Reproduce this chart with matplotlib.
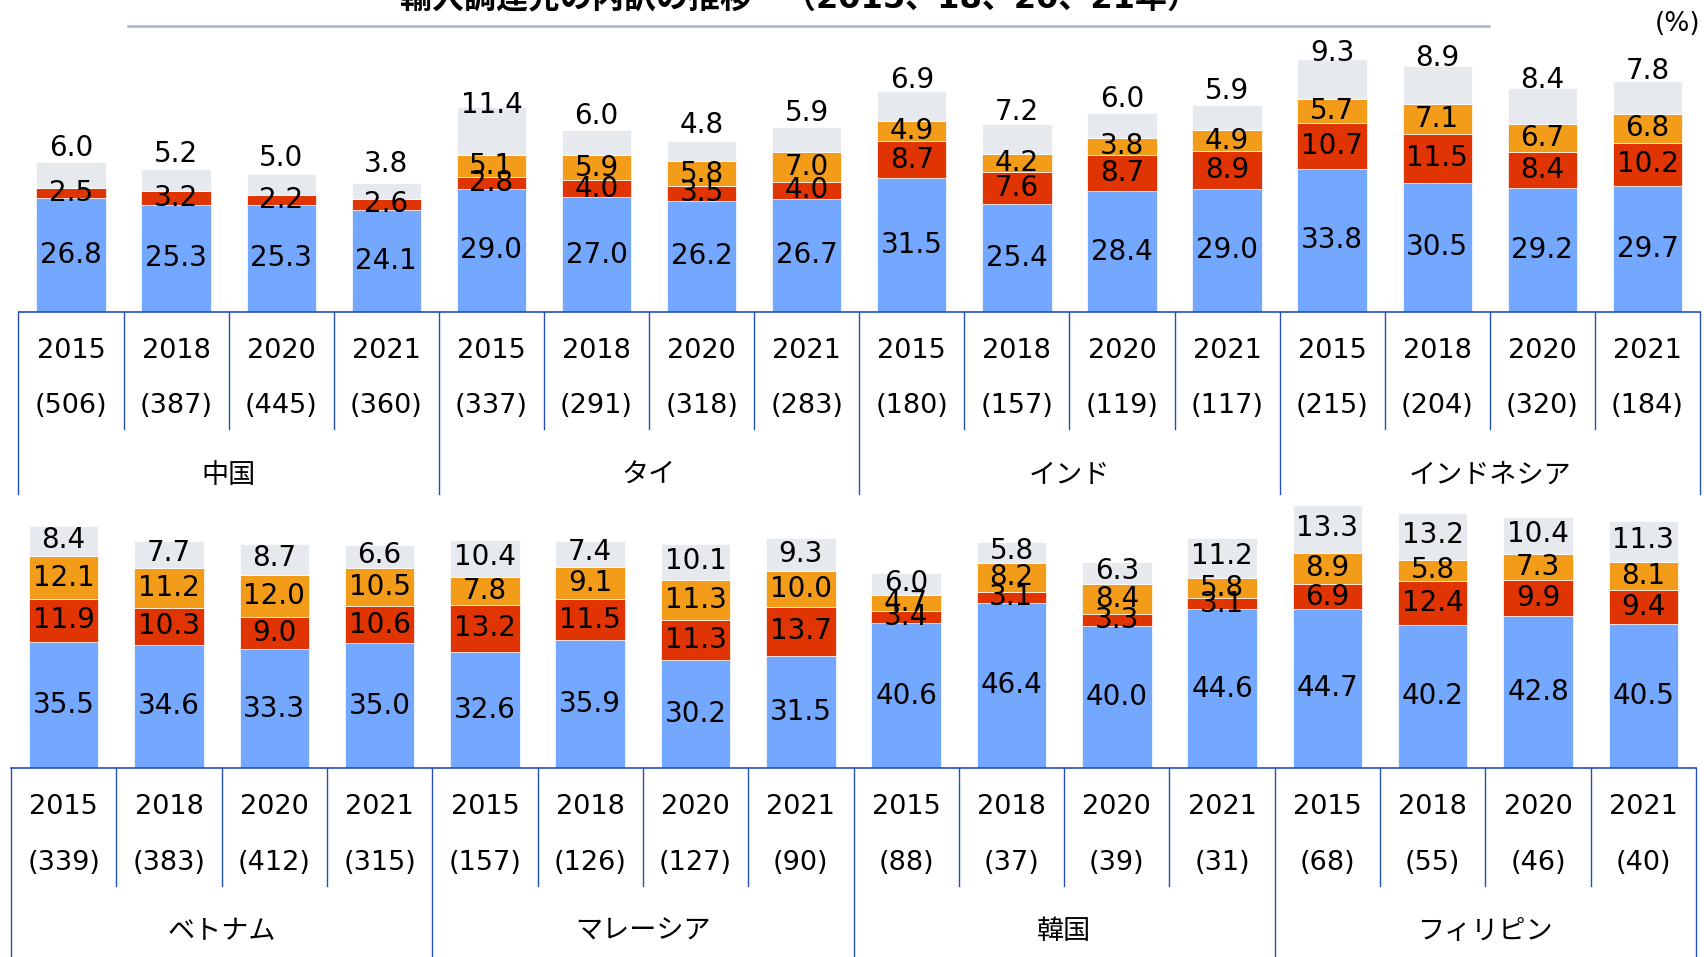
import numpy as np
import matplotlib.pyplot as plt
from matplotlib.transforms import blended_transform_factory

plt.rcParams['font.family'] = ['DejaVu Sans', 'Noto Sans CJK JP']

# データ
years = ['2015', '2018', '2020', '2021']

top_countries = ['中国', 'タイ', 'インド', 'インドネシア']
top_counts = [506, 387, 445, 360, 337, 291, 318, 283,
              180, 157, 119, 117, 215, 204, 320, 184]
top_blue = [26.8, 25.3, 25.3, 24.1, 29.0, 27.0, 26.2, 26.7,
            31.5, 25.4, 28.4, 29.0, 33.8, 30.5, 29.2, 29.7]
top_red = [2.5, 3.2, 2.2, 2.6, 2.8, 4.0, 3.5, 4.0,
           8.7, 7.6, 8.7, 8.9, 10.7, 11.5, 8.4, 10.2]
top_orange = [0, 0, 0, 0, 5.1, 5.9, 5.8, 7.0,
              4.9, 4.2, 3.8, 4.9, 5.7, 7.1, 6.7, 6.8]
top_gray = [6.0, 5.2, 5.0, 3.8, 11.4, 6.0, 4.8, 5.9,
            6.9, 7.2, 6.0, 5.9, 9.3, 8.9, 8.4, 7.8]

bot_countries = ['ベトナム', 'マレーシア', '韓国', 'フィリピン']
bot_counts = [339, 383, 412, 315, 157, 126, 127, 90,
              88, 37, 39, 31, 68, 55, 46, 40]
bot_blue = [35.5, 34.6, 33.3, 35.0, 32.6, 35.9, 30.2, 31.5,
            40.6, 46.4, 40.0, 44.6, 44.7, 40.2, 42.8, 40.5]
bot_red = [11.9, 10.3, 9.0, 10.6, 13.2, 11.5, 11.3, 13.7,
           3.4, 3.1, 3.3, 3.1, 6.9, 12.4, 9.9, 9.4]
bot_orange = [12.1, 11.2, 12.0, 10.5, 7.8, 9.1, 11.3, 10.0,
              4.7, 8.2, 8.4, 5.8, 8.9, 5.8, 7.3, 8.1]
bot_gray = [8.4, 7.7, 8.7, 6.6, 10.4, 7.4, 10.1, 9.3,
            6.0, 5.8, 6.3, 11.2, 13.3, 13.2, 10.4, 11.3]

colors = ['#74A7FE', '#E03402', '#F39C1A', '#E6E9EE']
line_col = '#2450B4'

W, H = 1704, 957
fig = plt.figure(figsize=(W / 100, H / 100), dpi=100)
bg = fig.add_axes([0, 0, 1, 1])
bg.set_xlim(0, W)
bg.set_ylim(H, 0)
bg.axis('off')

# タイトル（上部が切れている）
bg.text(800, 8, '輸入調達先の内訳の推移　（2015、18、20、21年）',
        ha='center', va='baseline', fontsize=23, fontweight='bold')
bg.plot([128, 1489], [26, 26], color='#A9B4C6', lw=1.8)
bg.text(1700, 24, '(%)', ha='right', va='center', fontsize=19)


def panel(left, right, base, top_px, scale, series, counts, countries,
          year_y, count_y, sep_y, country_y, long_y, gray_off):
    ax = fig.add_axes([left / W, 1 - base / H, (right - left) / W, (base - top_px) / H])
    ax.set_xlim(-0.5, 15.5)
    ax.set_ylim(0, (base - top_px) / scale)
    ax.axis('off')
    ax.patch.set_alpha(0)
    x = np.arange(16)
    bottom = np.zeros(16)
    for k, (vals, col) in enumerate(zip(series, colors)):
        v = np.array(vals, dtype=float)
        ax.bar(x, v, 0.66, bottom=bottom, color=col, edgecolor='white', linewidth=0.5)
        for xi, b, vi in zip(x, bottom, v):
            if vi <= 0:
                continue
            dy = gray_off if k == 3 else 0
            ax.annotate(f'{vi:.1f}', (xi, b + vi / 2), xytext=(0, dy),
                        textcoords='offset points', ha='center', va='center',
                        fontsize=20)
        bottom += v

    tr = blended_transform_factory(ax.transData, bg.transData)
    ax.axhline(0, color=line_col, lw=1.2, clip_on=False)
    for i in range(17):
        y_end = long_y if i % 4 == 0 else sep_y
        ax.plot([i - 0.5, i - 0.5], [base, y_end], color=line_col, lw=1.0,
                transform=tr, clip_on=False)
    for i in range(16):
        ax.text(i, year_y, years[i % 4], transform=tr, ha='center', va='center', fontsize=19.5)
        ax.text(i, count_y, f'({counts[i]})', transform=tr, ha='center', va='center', fontsize=19.5)
    for j, name in enumerate(countries):
        ax.text(j * 4 + 1.5, country_y, name, transform=tr, ha='center', va='center',
                fontsize=19.5)
    return ax


panel(18.5, 1700, 312, 0, 4.245, [top_blue, top_red, top_orange, top_gray],
      top_counts, top_countries, 351, 406, 429, 476, 494, 19)
panel(11, 1696, 768, 495, 3.56, [bot_blue, bot_red, bot_orange, bot_gray],
      bot_counts, bot_countries, 807, 863, 886, 932, 957, 1)

plt.savefig('out.png', dpi=100)
